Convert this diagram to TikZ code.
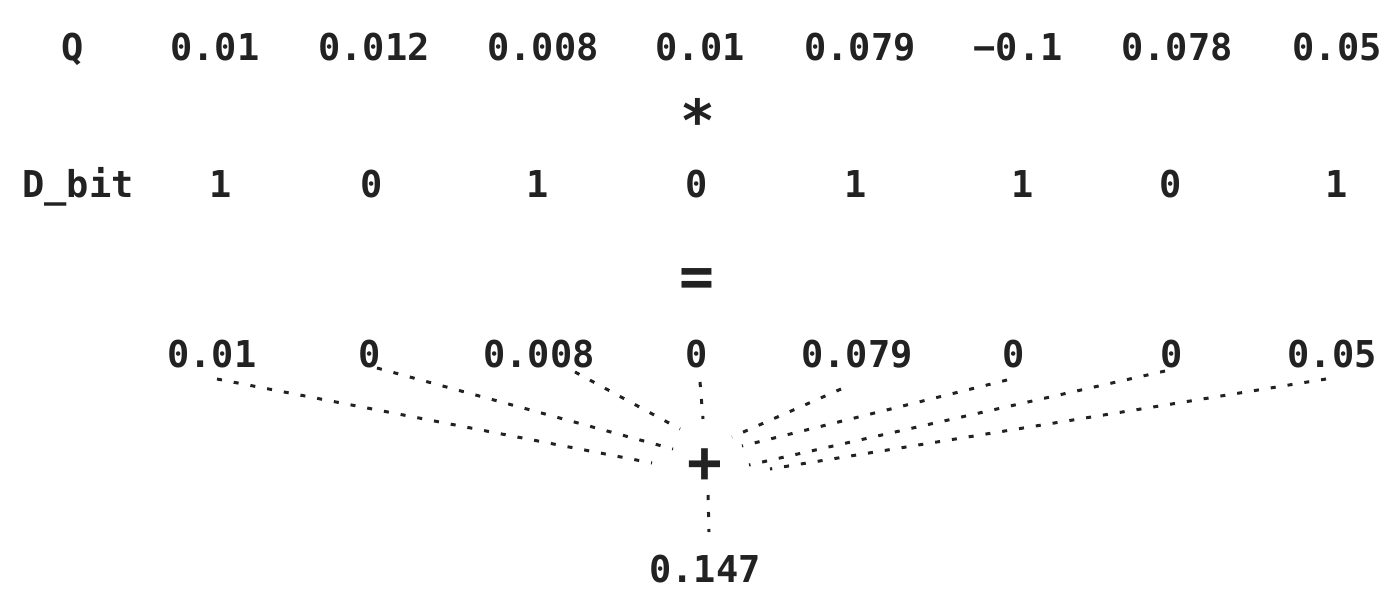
\documentclass[tikz,border=0pt]{standalone}
\usepackage{fontspec}
\setmainfont{DejaVu Sans Mono}
\definecolor{ink}{HTML}{222222}
\begin{document}
\begin{tikzpicture}[x=1pt,y=-1pt,
  txt/.style={anchor=base,inner sep=0pt,text=ink,font=\fontsize{37}{44}\selectfont\bfseries},
  op/.style={anchor=center,inner sep=0pt,text=ink,font=\fontsize{58}{64}\selectfont\bfseries},
  dots/.style={draw=ink,line width=3pt,dash pattern=on 5pt off 12pt}]
\useasboundingbox (0,0) rectangle (1399,611);
% Q row
\node[txt] (qlab) at (73,60) {Q};
\node[txt] (q1) at (215,60) {0.01};
\node[txt] (q2) at (374,60) {0.012};
\node[txt] (q3) at (543,60) {0.008};
\node[txt] (q4) at (700,60) {0.01};
\node[txt] (q5) at (860,60) {0.079};
\node[txt] (q6) at (1018,60) {−0.1};
\node[txt] (q7) at (1177,60) {0.078};
\node[txt] (q8) at (1337,60) {0.05};
\node[op] (times) at (698,120) {*};
% D_bit row
\node[txt] (dlab) at (78,197) {D\_bit};
\node[txt] (d1) at (221,197) {1};
\node[txt] (d2) at (372,197) {0};
\node[txt] (d3) at (538,197) {1};
\node[txt] (d4) at (697,197) {0};
\node[txt] (d5) at (856,197) {1};
\node[txt] (d6) at (1023,197) {1};
\node[txt] (d7) at (1171,197) {0};
\node[txt] (d8) at (1337,197) {1};
\node[op] (eq) at (697,283) {=};
% result row
\node[txt] (r1) at (212,367) {0.01};
\node[txt] (r2) at (370,367) {0};
\node[txt] (r3) at (539,367) {0.008};
\node[txt] (r4) at (697,367) {0};
\node[txt] (r5) at (857,367) {0.079};
\node[txt] (r6) at (1014,367) {0};
\node[txt] (r7) at (1172,367) {0};
\node[txt] (r8) at (1332,367) {0.05};
\node[op] (plus) at (705,466) {+};
\node[txt] (sum) at (705,582) {0.147};
% connector ends
\coordinate (s1) at (217,379); \coordinate (e1) at (652,463);
\coordinate (s2) at (377,368); \coordinate (e2) at (673,449);
\coordinate (s3) at (575,372); \coordinate (e3) at (680,429);
\coordinate (s4) at (700,382); \coordinate (e4) at (703,419);
\coordinate (s5) at (841,389); \coordinate (e5) at (732,437);
\coordinate (s6) at (1007,380); \coordinate (e6) at (742,446);
\coordinate (s7) at (1165,371); \coordinate (e7) at (749,465);
\coordinate (s8) at (1326,379); \coordinate (e8) at (770,469);
\coordinate (pb) at (708,495); \coordinate (st) at (709,532);
\foreach \i in {1,...,8} {\draw[dots] (s\i) -- (e\i);}
\draw[dots] (pb) -- (st);
\end{tikzpicture}
\end{document}
